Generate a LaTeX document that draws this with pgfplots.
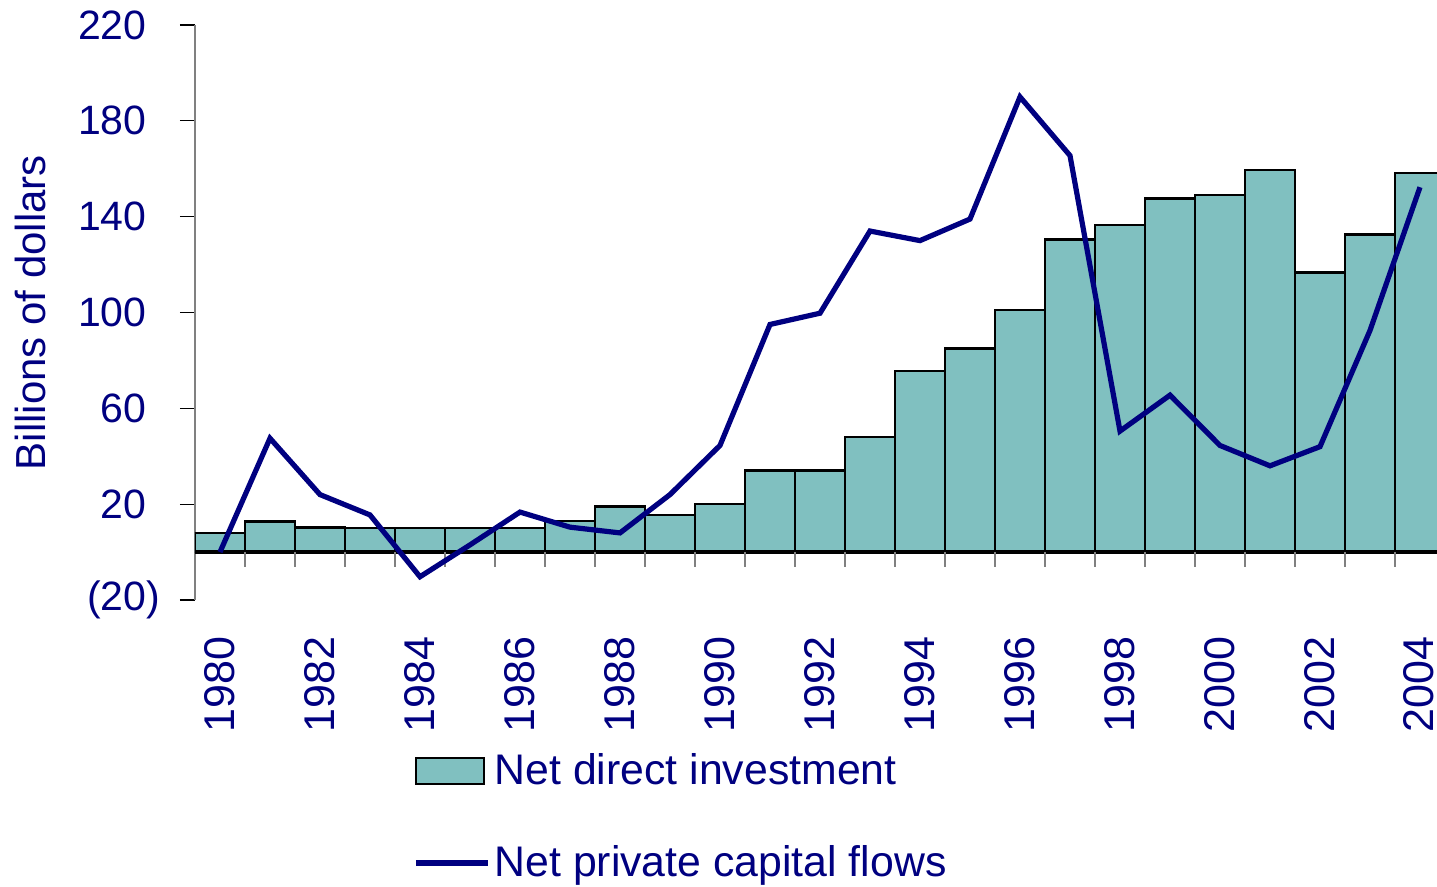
\documentclass[border=0pt]{standalone}
\usepackage{fontspec}
\setmainfont{Liberation Sans}
\usepackage{pgfplots}
\pgfplotsset{compat=1.18}
\definecolor{navy}{RGB}{0,0,128}
\definecolor{barfill}{RGB}{128,192,192}
\newcommand{\negtwenty}{\mbox{(20\rlap{)}}}
\begin{document}
\begin{tikzpicture}
\begin{axis}[
  scale only axis, width=621pt, height=287.5pt,
  xmin=1979.5, xmax=2004.34, ymin=-20, ymax=220,
  enlargelimits=false,
  axis y line=left, axis x line=bottom,
  x axis line style={draw=none},
  y axis line style={-, draw=gray, line width=0.75pt},
  xtick={1980,1982,...,2004},
  xticklabels={1980,1982,1984,1986,1988,1990,1992,1994,1996,1998,2000,2002,{\raisebox{2pt}{2004}}},
  major x tick style={draw=none},
  xticklabel style={rotate=90, anchor=east, inner sep=0pt, font=\fontsize{21.5}{24}\selectfont, text=navy},
  xticklabel shift=10.5pt,
  ytick={-20,20,60,100,140,180,220},
  yticklabels={{\negtwenty},20,60,100,140,180,220},
  tick align=outside, major tick length=7.5pt,
  major y tick style={black, line width=0.6pt},
  yticklabel style={anchor=east, inner sep=0pt, font=\fontsize{20.5}{24}\selectfont, text=navy},
  yticklabel shift=16.5pt,
  ylabel={Billions of dollars},
  ylabel style={at={(axis description cs:0,0.5)}, anchor=center, yshift=82.5pt, font=\fontsize{21}{25}\selectfont, text=navy},
  legend style={draw=none, fill=none, at={(axis description cs:0.1755,-0.26)}, anchor=north west, inner sep=0pt,
    font=\fontsize{21.4}{25}\selectfont, text=navy, row sep=25pt},
  legend cell align=left,
]
\addplot[ybar, bar width=25pt, fill=barfill, draw=black, line width=1.3pt,
  legend image code/.code={\draw[draw=black, fill=barfill, line width=1.3pt] (0pt,-6.5pt) rectangle (34pt,6.5pt);}]
  coordinates {
  (1980,8) (1981,12.8) (1982,10.2) (1983,10) (1984,10) (1985,10) (1986,10) (1987,13)
  (1988,19) (1989,15.5) (1990,20) (1991,34) (1992,34) (1993,48) (1994,75.5) (1995,85)
  (1996,101) (1997,130.5) (1998,136.5) (1999,147.5) (2000,149) (2001,159.5) (2002,116.8)
  (2003,132.5) (2004,158.2)};
\addlegendentry{Net direct investment}
\draw[black, line width=1.7pt] (axis cs:1979.5,0) -- (axis cs:2005,0);
\pgfplotsinvokeforeach{1980.5,1981.5,...,2003.5}{\draw[gray, line width=0.6pt] (axis cs:#1,0) -- ([yshift=-7.5pt]axis cs:#1,0);}
\addplot[navy, line width=2.6pt, mark=none,
  legend image code/.code={\draw[navy, line width=2.6pt] (0pt,0pt) -- (36pt,0pt);}]
  coordinates {
  (1980,0) (1981,47.5) (1982,24) (1983,15.5) (1984,-10.3) (1985,3) (1986,16.7) (1987,10.4)
  (1988,8) (1989,24) (1990,44.5) (1991,95) (1992,99.7) (1993,134) (1994,130) (1995,139)
  (1996,190) (1997,165.5) (1998,50.5) (1999,65.5) (2000,44.5) (2001,36) (2002,44)
  (2003,92.5) (2004,152.3)};
\addlegendentry{Net private capital flows}
\end{axis}
\pgfresetboundingbox
\path (-97.5pt,-143.5pt) rectangle (621pt,300pt);
\end{tikzpicture}
\end{document}
